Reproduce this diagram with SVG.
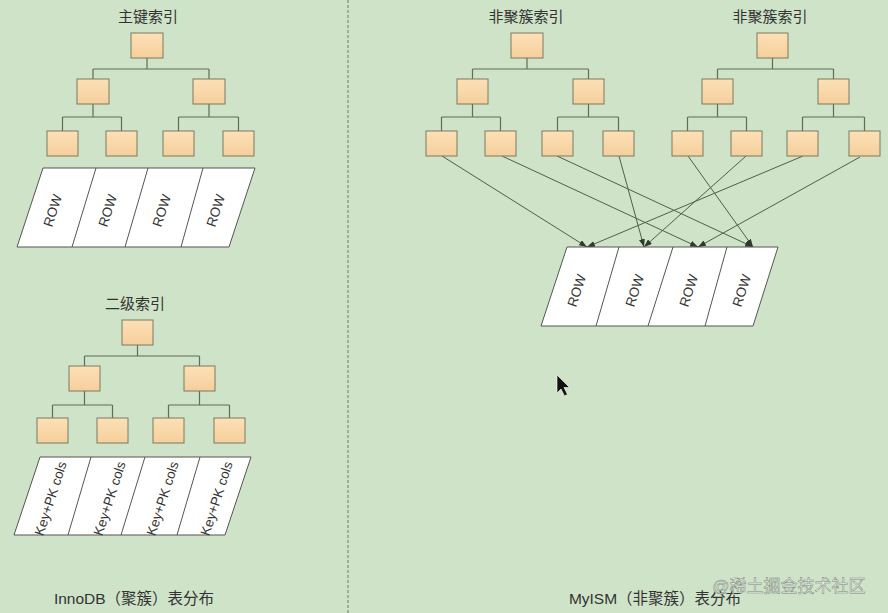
<svg xmlns="http://www.w3.org/2000/svg" width="888" height="613" viewBox="0 0 888 613">
<style>
.bg{fill:#cfe3c8}
.box{fill:url(#boxg);stroke:#7b7b62;stroke-width:1}
.tree{fill:none;stroke:#5d6f55;stroke-width:1.2}
.arr{fill:none;stroke:#4f5f4a;stroke-width:1;marker-end:url(#ah)}
.pg{fill:#ffffff;stroke:#555;stroke-width:1}
.dv{fill:none;stroke:#555;stroke-width:1}
.t{font-family:"Liberation Sans","Noto Sans CJK SC",sans-serif;fill:#333}
.title{font-size:15px;text-anchor:middle}
.row{font-size:13.5px;text-anchor:middle}
.foot{font-size:15.5px;text-anchor:middle}
</style>
<defs>
<linearGradient id="boxg" x1="0" y1="0" x2="0" y2="1">
<stop offset="0" stop-color="#fde0b6"/>
<stop offset="1" stop-color="#f5cf9c"/>
</linearGradient>
<marker id="ah" viewBox="0 0 8 6" refX="8" refY="3" markerWidth="8" markerHeight="6" markerUnits="userSpaceOnUse" orient="auto">
<path d="M0,0 L8,3 L0,6 z" fill="#2f3a2c"/>
</marker>
</defs>
<rect class="bg" x="0" y="0" width="888" height="613"/>
<line x1="348" y1="0" x2="348" y2="613" stroke="#6a7a6a" stroke-width="1" stroke-dasharray="3 2"/>

<g id="connectors">
<path class="tree" d="M147 58V69M93 69H209M93 69V79M209 69V79M93 104V117M62.5 117H121.5M62.5 117V131M121.5 117V131M209 104V117M178.5 117H238.5M178.5 117V131M238.5 117V131"/>
<path class="tree" d="M137.5 345V356M84.5 356H199.5M84.5 356V366M199.5 356V366M84.5 391V405M52.5 405H112.5M52.5 405V418M112.5 405V418M199.5 391V405M168.5 405H229.5M168.5 405V418M229.5 405V418"/>
<path class="tree" d="M527 58V69M472.5 69H588.5M472.5 69V79M588.5 69V79M472.5 104V117M441.5 117H500.5M441.5 117V131M500.5 117V131M588.5 104V117M557.5 117H618.5M557.5 117V131M618.5 117V131"/>
<path class="tree" d="M772.5 58V69M717.5 69H833.5M717.5 69V79M833.5 69V79M717.5 104V117M687.5 117H746.5M687.5 117V131M746.5 117V131M833.5 104V117M802.5 117H864.5M802.5 117V131M864.5 117V131"/>
<line class="arr" x1="442" y1="156" x2="587" y2="247"/>
<line class="arr" x1="502" y1="156" x2="698" y2="247"/>
<line class="arr" x1="557" y1="156" x2="753" y2="247"/>
<line class="arr" x1="619" y1="156" x2="644" y2="247"/>
<line class="arr" x1="688" y1="156" x2="753" y2="247"/>
<line class="arr" x1="746" y1="156" x2="644" y2="247"/>
<line class="arr" x1="803" y1="156" x2="587" y2="247"/>
<line class="arr" x1="860" y1="157" x2="698" y2="247"/>
</g>

<text class="t title" x="148" y="22">主键索引</text>
<g id="pk-root"><rect class="box" x="131" y="33" width="32" height="25"/></g>
<g id="pk-l2a"><rect class="box" x="77" y="79" width="32" height="25"/></g>
<g id="pk-l2b"><rect class="box" x="193" y="79" width="32" height="25"/></g>
<g id="pk-leaf1"><rect class="box" x="47" y="131" width="31" height="25"/></g>
<g id="pk-leaf2"><rect class="box" x="106" y="131" width="31" height="25"/></g>
<g id="pk-leaf3"><rect class="box" x="163" y="131" width="31" height="25"/></g>
<g id="pk-leaf4"><rect class="box" x="223" y="131" width="31" height="25"/></g>
<g id="pk-rows">
<polygon class="pg" points="43,168 255,168 229,247 17,247"/>
<path class="dv" d="M96 168L72 247M148 168L125 247M203 168L181 247"/>
<text class="t row" transform="translate(57,212) rotate(-72)">ROW</text>
<text class="t row" transform="translate(112,212) rotate(-72)">ROW</text>
<text class="t row" transform="translate(166,212) rotate(-72)">ROW</text>
<text class="t row" transform="translate(220,212) rotate(-72)">ROW</text>
</g>

<text class="t title" x="135" y="309">二级索引</text>
<g id="sk-root"><rect class="box" x="122" y="320" width="31" height="25"/></g>
<g id="sk-l2a"><rect class="box" x="69" y="366" width="31" height="25"/></g>
<g id="sk-l2b"><rect class="box" x="184" y="366" width="31" height="25"/></g>
<g id="sk-leaf1"><rect class="box" x="37" y="418" width="31" height="25"/></g>
<g id="sk-leaf2"><rect class="box" x="97" y="418" width="31" height="25"/></g>
<g id="sk-leaf3"><rect class="box" x="153" y="418" width="31" height="25"/></g>
<g id="sk-leaf4"><rect class="box" x="214" y="418" width="31" height="25"/></g>
<g id="sk-rows">
<polygon class="pg" points="40,457 251,457 225,535 14,535"/>
<path class="dv" d="M91 457L68 535M145 457L121 535M200 457L177 535"/>
<text class="t row" transform="translate(55,500) rotate(-72)">Key+PK cols</text>
<text class="t row" transform="translate(114,500) rotate(-72)">Key+PK cols</text>
<text class="t row" transform="translate(167,500) rotate(-72)">Key+PK cols</text>
<text class="t row" transform="translate(221,500) rotate(-72)">Key+PK cols</text>
</g>
<text class="t foot" x="134" y="604">InnoDB（聚簇）表分布</text>

<text class="t title" x="526" y="22">非聚簇索引</text>
<g id="n1-root"><rect class="box" x="511" y="33" width="32" height="25"/></g>
<g id="n1-l2a"><rect class="box" x="457" y="79" width="31" height="25"/></g>
<g id="n1-l2b"><rect class="box" x="573" y="79" width="31" height="25"/></g>
<g id="n1-leaf1"><rect class="box" x="426" y="131" width="31" height="25"/></g>
<g id="n1-leaf2"><rect class="box" x="485" y="131" width="31" height="25"/></g>
<g id="n1-leaf3"><rect class="box" x="542" y="131" width="31" height="25"/></g>
<g id="n1-leaf4"><rect class="box" x="603" y="131" width="31" height="25"/></g>

<text class="t title" x="770" y="22">非聚簇索引</text>
<g id="n2-root"><rect class="box" x="757" y="33" width="31" height="25"/></g>
<g id="n2-l2a"><rect class="box" x="702" y="79" width="31" height="25"/></g>
<g id="n2-l2b"><rect class="box" x="818" y="79" width="31" height="25"/></g>
<g id="n2-leaf1"><rect class="box" x="672" y="131" width="31" height="25"/></g>
<g id="n2-leaf2"><rect class="box" x="731" y="131" width="31" height="25"/></g>
<g id="n2-leaf3"><rect class="box" x="787" y="131" width="31" height="25"/></g>
<g id="n2-leaf4"><rect class="box" x="849" y="131" width="31" height="25"/></g>

<g id="myisam-rows">
<polygon class="pg" points="567,247 778,247 753,326 541,326"/>
<path class="dv" d="M619 247L596 326M673 247L648 326M727 247L705 326"/>
<text class="t row" transform="translate(581,292) rotate(-72)">ROW</text>
<text class="t row" transform="translate(639,292) rotate(-72)">ROW</text>
<text class="t row" transform="translate(693,292) rotate(-72)">ROW</text>
<text class="t row" transform="translate(746,292) rotate(-72)">ROW</text>
</g>

<polygon points="557,375 557,393 561,389 564.5,396 567.5,394.5 564,387.5 569.5,387.5" fill="#111" stroke="#fff" stroke-width="0.6"/>

<text class="t foot" x="655" y="604">MyISM（非聚簇）表分布</text>
<text x="789" y="592" font-family="Liberation Sans,'Noto Sans CJK SC',sans-serif" font-size="17" text-anchor="middle" fill="#eef2ec" stroke="#7a887a" stroke-width="0.5">@稀土掘金技术社区</text>
</svg>
